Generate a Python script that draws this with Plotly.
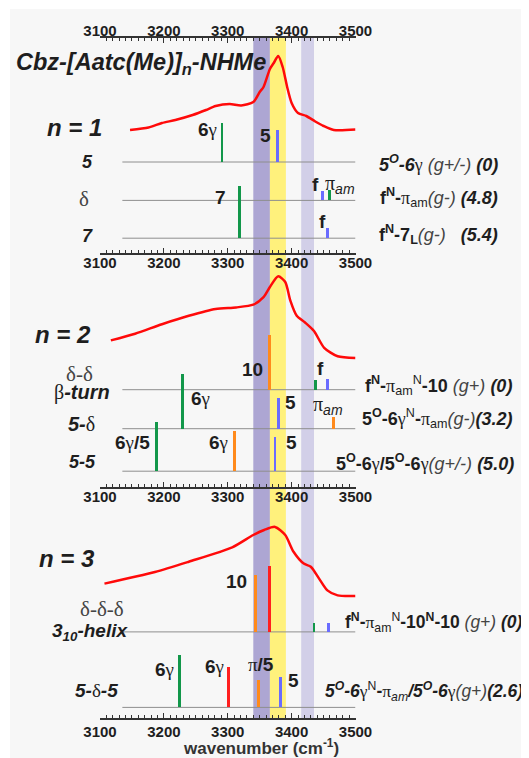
import plotly.graph_objects as go

# the page puts the figure 8 px from the top-left corner of the window
OFF = 8
W, H = 529 - OFF, 758 - OFF
SANS = 'Liberation Sans, Arial, sans-serif'

# ---- data: IR spectra (wavenumber, absorbance in arbitrary units) ----
n1_wn = [3147, 3176, 3197, 3218, 3245, 3266, 3281, 3303, 3321, 3340, 3350, 3356,
         3366, 3372, 3379, 3386, 3393, 3400, 3410, 3423, 3437, 3450, 3466, 3500]
n1_abs = [0, 2.5, 7, 10, 15, 20, 24, 26, 24.5, 28, 38, 43,
          61, 67, 74, 63, 43, 27, 17, 14, 8.5, 4, 0, 0.4]

n2_wn = [3117, 3155, 3197, 3239, 3281, 3313, 3340, 3356, 3366, 3379, 3390, 3398,
         3408, 3421, 3435, 3451, 3472, 3500]
n2_abs = [19.6, 26.3, 35.8, 44.2, 51, 52.6, 55.3, 62.8, 73, 83.7, 78, 59.4,
          44.2, 37.5, 29, 12.2, 3.7, 2]

n3_wn = [3107, 3186, 3239, 3307, 3340, 3357, 3374, 3390, 3403, 3419, 3430, 3443,
         3456, 3472, 3500]
n3_abs = [14.4, 26, 36.3, 50.6, 63, 68, 71.1, 63, 46.2, 34.4, 31.3, 19.4,
          7.6, 2.6, 2]

# ---- data: computed NH stretch frequencies (stick spectra) ----
# row = conformer index inside the panel, site = which NH gives the band
st1_wn = [3291, 3378, 3449, 3458.6, 3318, 3456]
st1_int = [39, 32.4, 9.4, 10.8, 52, 10]
st1_row = [0, 0, 1, 1, 2, 2]
st1_site = ['NH1', 'NHMe', 'NHMe', 'NH1', 'NH1', 'NHMe']

st2_wn = [3366, 3437.5, 3456, 3229, 3379, 3465, 3188, 3310.6, 3374]
st2_int = [54.7, 9.5, 10.5, 55, 30.3, 11.8, 49, 40, 34]
st2_row = [0, 0, 0, 1, 1, 1, 2, 2, 2]
st2_site = ['NH2', 'NH1', 'NHMe', 'NH1', 'NHMe', 'NH2', 'NH1', 'NH2', 'NHMe']

st3_wn = [3344, 3365, 3435, 3457, 3225, 3300.5, 3347.5, 3382.5]
st3_int = [56.7, 65.9, 9, 9, 52, 40, 27.6, 30]
st3_row = [0, 0, 0, 0, 1, 1, 1, 1]
st3_site = ['NH2', 'NH3', 'NH1', 'NHMe', 'NH1', 'NH3', 'NH2', 'NHMe']

# highlighted experimental bands (cm-1)
band_lo = [3340, 3366, 3415]
band_hi = [3366, 3391, 3435]

tick_major = list(range(3100, 3501, 50))
tick_minor = list(range(3100, 3501, 10))

# ---- layout constants (pixel rows of the page) ----
SITE_COLOR = {'NH1': '#12974a', 'NH2': '#ff8a1c', 'NH3': '#ff1f1f', 'NHMe': '#6a6cff'}
BAND_COLOR = ['rgba(160,152,204,0.85)', 'rgba(255,240,110,0.9)', 'rgba(200,196,228,0.8)']
panels = [
    dict(wn=n1_wn, ab=n1_abs, base=130, rows=[162, 200.4, 238.2],
         s=(st1_wn, st1_int, st1_row, st1_site)),
    dict(wn=n2_wn, ab=n2_abs, base=360, rows=[389.7, 428.7, 471.2],
         s=(st2_wn, st2_int, st2_row, st2_site)),
    dict(wn=n3_wn, ab=n3_abs, base=598, rows=[631.9, 707.4],
         s=(st3_wn, st3_int, st3_row, st3_site)),
]


def yv(py):
    # page pixel row -> y data value
    return H - (py - OFF)


def fx(px):
    return (px - OFF) / W


def fy(py):
    return 1 - (py - OFF) / H


fig = go.Figure()
shapes = [dict(type='rect', xref='paper', yref='paper', x0=fx(10), x1=1, y0=0, y1=fy(9),
               fillcolor='#f7f7f7', line_width=0, layer='below')]
for lo, hi, c in zip(band_lo, band_hi, BAND_COLOR):
    shapes.append(dict(type='rect', xref='x', yref='paper', x0=lo, x1=hi,
                       y0=fy(718), y1=fy(38), fillcolor=c, line_width=0, layer='below'))

for p in panels:
    fig.add_trace(go.Scatter(x=p['wn'], y=[yv(p['base']) + a for a in p['ab']], mode='lines',
                             line=dict(color='#ff0a0a', width=2.5, shape='spline', smoothing=0.7),
                             hoverinfo='skip'))
    for r in p['rows']:
        shapes.append(dict(type='line', xref='x', yref='y', x0=3135, x1=3500, y0=yv(r), y1=yv(r),
                           line=dict(color='#8e8e8e', width=1), layer='below'))
    wn, it, rw, site = p['s']
    fig.add_trace(go.Bar(x=wn, y=it, base=[yv(p['rows'][r]) for r in rw], width=4.6,
                         marker=dict(color=[SITE_COLOR[s] for s in site], line_width=0),
                         hoverinfo='skip'))

# empty traces so the extra tick axes get drawn
for ax in ['x2', 'x3', 'x4']:
    fig.add_trace(go.Scatter(x=[], y=[], xaxis=ax, yaxis='y', hoverinfo='skip'))

G = '<span style="font-family:Liberation Serif">{}</span>'.format
ann = []


def note(x, y, text, size=19, anchor='center', color='#1e1e1e'):
    ann.append(dict(xref='paper', yref='paper', x=fx(x), y=fy(y), text=text, showarrow=False,
                    xanchor=anchor, yanchor='middle', font=dict(family=SANS, size=size, color=color)))


six_g = '<b>6</b>' + G('γ')
# title and panel headers
note(14, 64, '<b><i>Cbz-[Aatc(Me)]<sub>n</sub>-NHMe</i></b>', 23.5, 'left')
note(45, 127, '<b><i>n = 1</i></b>', 24, 'left')
note(33, 334, '<b><i>n = 2</i></b>', 24, 'left')
note(36.5, 558.6, '<b><i>n = 3</i></b>', 24, 'left')

# stick labels
note(219, 129, six_g, 19, 'right')
note(265.7, 135, '<b>5</b>')
note(220, 197.7, '<b>7</b>')
note(315.5, 184, '<b>f</b>')
note(323, 184, G('π') + '<sub><i>am</i></sub>', 20, 'left')
note(322.8, 221, '<b>f</b>')
note(265, 369, '<b>10</b>', 19, 'right')
note(320.5, 368, '<b>f</b>')
note(189, 398.5, six_g, 19, 'left')
note(290, 402, '<b>5</b>')
note(311, 405, G('π') + '<sub><i>am</i></sub>', 20, 'left')
note(132, 443, six_g + '<b>/5</b>')
note(218, 443, six_g)
note(291, 443, '<b>5</b>')
note(249, 581, '<b>10</b>', 19, 'right')
note(164.5, 669.6, six_g)
note(214.7, 666.3, six_g)
note(260.5, 664.6, G('π') + '<b>/5</b>')
note(293.5, 680, '<b>5</b>')

# conformer labels, left
note(87, 162, '<b><i>5</i></b>', 18)
note(84, 199.4, G('δ'), 21, color='#444')
note(87, 236, '<b><i>7</i></b>', 18)
note(79.8, 373.5, G('δ-δ'), 21, color='#444')
note(82.3, 392.5, G('β') + '<b><i>-turn</i></b>', 20)
note(81, 423.6, '<b><i>5-</i></b>' + G('δ'), 20)
note(82.2, 462.4, '<b><i>5-5</i></b>', 18)
note(102.4, 609, G('δ-δ-δ'), 21, color='#444')
note(89.7, 632, '<b><i>3<sub>10</sub>-helix</i></b>', 19)
note(96, 690, '<b><i>5-</i></b>' + G('δ') + '<b><i>-5</i></b>', 19)

# conformer labels, right
gp = '<span style="color:#444">{}</span>'.format
note(500, 163, '<b><i>5<sup>O</sup>-6</i></b>' + G('γ') + gp('<i> (g+/-) </i>') + '<b><i>(0)</i></b>', 18, 'right')
note(500, 197, '<b>f<sup>N</sup>-</b>' + G('π') + '<sub>am</sub>' + gp('<i>(g-) </i>') + '<b><i>(4.8)</i></b>', 18, 'right')
note(500, 235, '<b>f<sup>N</sup>-7<sub>L</sub></b>' + gp('<i>(g-)</i>') + '\u00a0\u00a0 <b><i>(5.4)</i></b>', 18, 'right')
note(514, 385, '<b>f<sup>N</sup>-</b>' + G('π') + '<sub>am</sub><sup>N</sup><b>-10 </b>' + gp('<i>(g+)</i>') + ' <b><i>(0)</i></b>', 18, 'right')
note(515, 418.6, '<b>5<sup>O</sup>-6</b>' + G('γ') + '<sup>N</sup><b>-</b>' + G('π') + '<sub>am</sub>' + gp('<i>(g-)</i>') + '<b><i>(3.2)</i></b>', 18, 'right')
note(516, 462.4, '<b>5<sup>O</sup>-6</b>' + G('γ') + '<b>/5<sup>O</sup>-6</b>' + G('γ') + gp('<i>(g+/-)</i>') + ' <b><i>(5.0)</i></b>', 18, 'right')
note(525, 622.4, '<b>f<sup>N</sup>-</b>' + G('π') + '<sub>am</sub><sup>N</sup><b>-10<sup>N</sup>-10 </b>' + gp('<i>(g+)</i>') + ' <b><i>(0)</i></b>', 17.5, 'right')
note(525, 691, '<b><i>5<sup>O</sup>-6</i></b>' + G('γ') + '<sup>N</sup><b>-</b>' + G('π') + '<sub><i>am</i></sub><b><i>/5<sup>O</sup>-6</i></b>' + G('γ') + gp('<i>(g+)</i>') + '<b><i>(2.6)</i></b>', 17.5, 'right')

# axis title
note(260.7, 747, '<b>wavenumber (cm<sup>-1</sup>)</b>', 17, color='#333')

axis_common = dict(
    range=[3100, 3500], domain=[fx(100), fx(355.5)], showgrid=False, zeroline=False,
    showline=True, linecolor='#333', linewidth=1.5, ticks='inside', ticklen=5,
    tickwidth=1.2, tickcolor='#333', tickmode='array', tickvals=tick_major,
    ticktext=['<b>%d</b>' % t if t % 100 == 0 else '' for t in tick_major],
    tickfont=dict(family=SANS, size=15, color='#1e1e1e'),
    minor=dict(tickvals=tick_minor, ticklen=3, tickwidth=1, tickcolor='#333', ticks='inside'),
    fixedrange=True, anchor='free', automargin=False,
)

fig.update_layout(
    template='none',
    width=W, height=H, margin=dict(l=0, r=0, t=0, b=0, pad=0),
    paper_bgcolor='white', plot_bgcolor='rgba(0,0,0,0)',
    showlegend=False, barmode='overlay', bargap=0,
    xaxis=dict(axis_common, side='bottom', position=fy(719), ticklabelstandoff=-1),
    xaxis2=dict(axis_common, side='bottom', position=fy(488), overlaying='x', ticklabelstandoff=-5),
    xaxis3=dict(axis_common, side='bottom', position=fy(254), overlaying='x', ticklabelstandoff=-5),
    xaxis4=dict(axis_common, side='top', position=fy(37), overlaying='x', ticklabelstandoff=-6),
    yaxis=dict(range=[0, H], domain=[0, 1], visible=False, fixedrange=True, automargin=False),
    shapes=shapes, annotations=ann,
)

fig.write_html("out.html")
